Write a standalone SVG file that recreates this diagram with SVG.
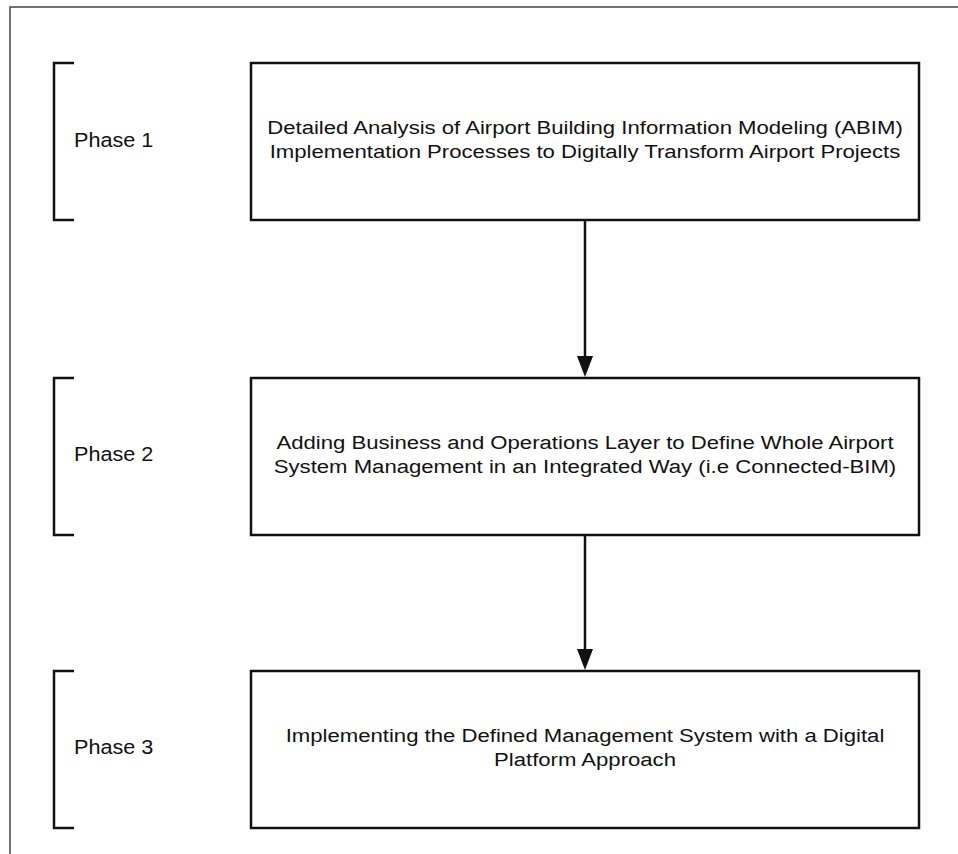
<svg xmlns="http://www.w3.org/2000/svg" width="958" height="854" viewBox="0 0 958 854">
  <style>
    .frame { fill: none; stroke: #444; stroke-width: 1.5; }
    .box { fill: #fff; stroke: #111; stroke-width: 2.5; }
    .bracket { fill: none; stroke: #111; stroke-width: 2.5; }
    .conn { stroke: #111; stroke-width: 2.5; fill: none; }
    .head { fill: #111; }
    text { font-family: "Liberation Sans", Arial, sans-serif; fill: #111; }
    .label { font-size: 19.5px; }
    .body { font-size: 19px; text-anchor: middle; }
  </style>
  <rect width="958" height="854" fill="#fff"/>
  <!-- outer frame (top and left edges) -->
  <path class="frame" d="M10,854 V7 H958"/>

  <g id="phase1">
    <path class="bracket" d="M74,63 H54 V220 H74"/>
    <text class="label" transform="translate(74,147) scale(1.11,1)">Phase 1</text>
  </g>
  <g id="step1">
    <rect class="box" x="251" y="63" width="668" height="157"/>
    <g transform="translate(585,0) scale(1.165,1)">
      <text class="body" x="0" y="134">Detailed Analysis of Airport Building Information Modeling (ABIM)</text>
      <text class="body" x="0" y="158">Implementation Processes to Digitally Transform Airport Projects</text>
    </g>
  </g>

  <g id="phase2">
    <path class="bracket" d="M74,378 H54 V535 H74"/>
    <text class="label" transform="translate(74,461) scale(1.11,1)">Phase 2</text>
  </g>
  <g id="step2">
    <rect class="box" x="251" y="378" width="668" height="157"/>
    <g transform="translate(585,0) scale(1.165,1)">
      <text class="body" x="0" y="449">Adding Business and Operations Layer to Define Whole Airport</text>
      <text class="body" x="0" y="473">System Management in an Integrated Way (i.e Connected-BIM)</text>
    </g>
  </g>

  <g id="phase3">
    <path class="bracket" d="M74,671 H54 V828 H74"/>
    <text class="label" transform="translate(74,754) scale(1.11,1)">Phase 3</text>
  </g>
  <g id="step3">
    <rect class="box" x="251" y="671" width="668" height="157"/>
    <g transform="translate(585,0) scale(1.165,1)">
      <text class="body" x="0" y="742">Implementing the Defined Management System with a Digital</text>
      <text class="body" x="0" y="766">Platform Approach</text>
    </g>
  </g>

  <g id="connectors">
    <line class="conn" x1="585" y1="221" x2="585" y2="358"/>
    <path class="head" d="M577,356 L593,356 L585,377 Z"/>
    <line class="conn" x1="585" y1="536" x2="585" y2="651"/>
    <path class="head" d="M577,649 L593,649 L585,670 Z"/>
  </g>
</svg>
